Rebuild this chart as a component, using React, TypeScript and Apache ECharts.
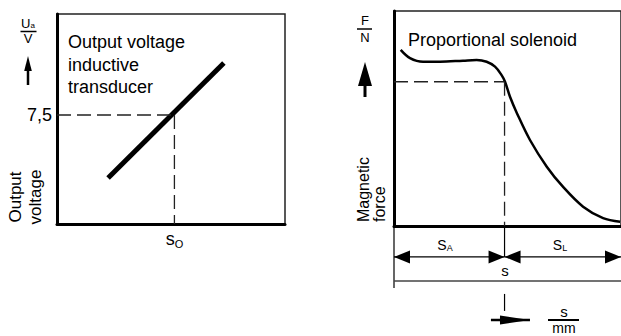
import React, { useEffect, useRef } from 'react';
import * as echarts from 'echarts';

// ---------- Left diagram: output voltage of inductive transducer ----------
const transducerX = [22.4, 73.2];
const transducerY = [21.9, 76.7];
const transducerRefX = 51.5; // s_O
const transducerRefY = 51.9; // 7,5 V
const transducerTickLabels = ['7,5'];
const transducerXLabel = ['s', 'O'];

// ---------- Right diagram: proportional solenoid force curve ----------
const strokeX = [2.95, 7.05, 12.8, 20.3, 30.4, 36.4, 40.8, 44.5, 47.4, 48.9, 51.1, 54.1, 59.9, 67.3, 74.4, 83.3, 92.1, 99.6];
const forceY = [81.9, 78.1, 76.4, 76.4, 76.9, 77.2, 76.4, 74.1, 70.2, 67.1, 60.1, 52.6, 40.0, 27.6, 18.3, 9.0, 3.7, 2.0];
const strokeRef = 48.7; // s
const forceRef = 67.1;
// dimension lines below the solenoid diagram (same axis units)
const dimArrowLevel = -14.4;
const dimBaseLevel = -25.6;
const dimLeftEnd = -28.8;
const dimLowerSegment = [-31.6, -39.5];
const dirArrowLevel = -43.7;
const dirArrowX = [42.7, 59.9];
const strokeRange = [0, 100];

const FONT = 'Liberation Sans, Arial, Helvetica, sans-serif';

export default function App() {
  const ref = useRef<HTMLDivElement>(null);

  useEffect(() => {
    if (!ref.current) return;
    const chart = echarts.init(ref.current, undefined, { renderer: 'svg' });

    const triLeft = 'path://M0,6.5L16,0L16,13Z';
    const triRight = 'path://M16,6.5L0,0L0,13Z';
    const longRight = 'path://M30,4.5L0,0L0,9Z';

    const base = {
      type: 'line',
      symbol: 'none',
      clip: false,
      silent: true,
      animation: false,
    };

    const dashed = { color: '#222', width: 1.3, type: [14, 6] };

    const leftHead = (x: number, y: number) => ({
      value: [x, y], symbol: triLeft, symbolSize: [16, 13], symbolOffset: [8, 0],
    });
    const rightHead = (x: number, y: number) => ({
      value: [x, y], symbol: triRight, symbolSize: [16, 13], symbolOffset: [-8, 0],
    });

    const arrowSeries = {
      ...base, xAxisIndex: 1, yAxisIndex: 1, showSymbol: true,
      itemStyle: { color: '#000', borderWidth: 0 },
      lineStyle: { color: '#000', width: 1.2 },
    };

    const option: any = {
      animation: false,
      textStyle: { fontFamily: FONT, color: '#000' },
      grid: [
        { left: 57, top: 14, width: 228, height: 210, show: true, borderColor: '#222', borderWidth: 1.5 },
        { left: 394, top: 11, width: 227, height: 215, show: true, borderColor: '#222', borderWidth: 1.5 },
      ],
      xAxis: [
        {
          gridIndex: 0, type: 'value', min: 0, max: 100,
          axisLine: { show: true, onZero: false, lineStyle: { color: '#000', width: 3 } },
          axisTick: { show: false }, splitLine: { show: false },
          axisLabel: {
            show: true, customValues: [transducerRefX], margin: 5,
            formatter: () => `{a|${transducerXLabel[0]}}{b|${transducerXLabel[1]}}`,
            rich: {
              a: { fontSize: 18, fontFamily: FONT, color: '#000' },
              b: { fontSize: 11, fontFamily: FONT, color: '#000', padding: [9, 0, 0, 0] },
            },
          },
        },
        {
          gridIndex: 1, type: 'value', min: strokeRange[0], max: strokeRange[1],
          axisLine: { show: true, onZero: false, lineStyle: { color: '#000', width: 3 } },
          axisTick: { show: false }, splitLine: { show: false }, axisLabel: { show: false },
        },
      ],
      yAxis: [
        {
          gridIndex: 0, type: 'value', min: 0, max: 100,
          axisLine: { show: true, onZero: false, lineStyle: { color: '#000', width: 3 } },
          axisTick: { show: false }, splitLine: { show: false },
          axisLabel: {
            show: true, customValues: [transducerRefY], margin: 5, fontSize: 18, color: '#000',
            formatter: () => transducerTickLabels[0],
          },
        },
        {
          gridIndex: 1, type: 'value', min: 0, max: 100,
          axisLine: { show: true, onZero: false, lineStyle: { color: '#000', width: 3 } },
          axisTick: { show: false }, splitLine: { show: false }, axisLabel: { show: false },
        },
      ],
      series: [
        // left
        { ...base, xAxisIndex: 0, yAxisIndex: 0, lineStyle: { color: '#000', width: 5 },
          data: transducerX.map((x, i) => [x, transducerY[i]]) },
        { ...base, xAxisIndex: 0, yAxisIndex: 0, lineStyle: dashed,
          data: [[0, transducerRefY], [transducerRefX, transducerRefY]] },
        { ...base, xAxisIndex: 0, yAxisIndex: 0, lineStyle: dashed,
          data: [[transducerRefX, transducerRefY], [transducerRefX, 0]] },
        // right
        { ...base, xAxisIndex: 1, yAxisIndex: 1, smooth: 0.35, lineStyle: { color: '#000', width: 2.5 },
          data: strokeX.map((x, i) => [x, forceY[i]]) },
        { ...base, xAxisIndex: 1, yAxisIndex: 1, lineStyle: dashed,
          data: [[0, forceRef], [strokeRef, forceRef]] },
        { ...base, xAxisIndex: 1, yAxisIndex: 1, lineStyle: dashed,
          data: [[strokeRef, forceRef], [strokeRef, 0]] },
        { ...base, xAxisIndex: 1, yAxisIndex: 1, lineStyle: { color: '#000', width: 1.2 },
          data: [[strokeRef, 0], [strokeRef, dimArrowLevel]] },
        { ...base, xAxisIndex: 1, yAxisIndex: 1, lineStyle: { color: '#000', width: 1.2 },
          data: [[strokeRange[0], 0], [strokeRange[0], dimLeftEnd]] },
        { ...base, xAxisIndex: 1, yAxisIndex: 1, lineStyle: { color: '#444', width: 1.5 },
          data: [[strokeRange[0], dimBaseLevel], [strokeRange[1], dimBaseLevel]] },
        { ...base, xAxisIndex: 1, yAxisIndex: 1, lineStyle: { color: '#000', width: 1.2 },
          data: [[strokeRef, dimLowerSegment[0]], [strokeRef, dimLowerSegment[1]]] },
        // dimension arrows s_A and s_L
        { ...arrowSeries,
          data: [leftHead(strokeRange[0], dimArrowLevel), rightHead(strokeRef, dimArrowLevel)] },
        { ...arrowSeries,
          data: [leftHead(strokeRef, dimArrowLevel), rightHead(strokeRange[1], dimArrowLevel)] },
        // direction arrow for s
        { ...arrowSeries, lineStyle: { color: '#000', width: 2.5 },
          data: [
            { value: [dirArrowX[0], dirArrowLevel], symbol: 'none' },
            { value: [dirArrowX[1], dirArrowLevel], symbol: longRight, symbolSize: [30, 9], symbolOffset: [-15, 0] },
          ] },
      ],
      graphic: [
        // left texts
        { type: 'text', x: 68, y: 31, silent: true,
          style: { text: 'Output voltage\ninductive\ntransducer', font: `18px ${FONT}`, fill: '#000', lineHeight: 22.5, align: 'left', verticalAlign: 'top' } },
        { type: 'text', x: 28, y: 23, silent: true,
          style: { text: '{a|U}{b|a}', align: 'center', verticalAlign: 'middle',
            rich: { a: { fontSize: 13, fontFamily: FONT, fill: '#000' }, b: { fontSize: 8, fontFamily: FONT, fill: '#000', padding: [4, 0, 0, 0] } } } },
        { type: 'line', silent: true, shape: { x1: 20.5, y1: 31.5, x2: 36.5, y2: 31.5 }, style: { stroke: '#000', lineWidth: 1.5 } },
        { type: 'text', x: 28, y: 38, silent: true,
          style: { text: 'V', font: `13px ${FONT}`, fill: '#000', align: 'center', verticalAlign: 'middle' } },
        { type: 'polygon', silent: true, shape: { points: [[28, 56], [31.8, 71], [24.2, 71]] }, style: { fill: '#000' } },
        { type: 'line', silent: true, shape: { x1: 28, y1: 70, x2: 28, y2: 85 }, style: { stroke: '#000', lineWidth: 2.5 } },
        { type: 'text', x: 25, y: 197, rotation: Math.PI / 2, silent: true,
          style: { text: 'Output\nvoltage', font: `17px ${FONT}`, fill: '#000', lineHeight: 20, align: 'center', verticalAlign: 'middle' } },
        // right texts
        { type: 'text', x: 408, y: 40, silent: true,
          style: { text: 'Proportional solenoid', font: `18px ${FONT}`, fill: '#000', align: 'left', verticalAlign: 'middle' } },
        { type: 'text', x: 365, y: 20, silent: true,
          style: { text: 'F', font: `13px ${FONT}`, fill: '#000', align: 'center', verticalAlign: 'middle' } },
        { type: 'line', silent: true, shape: { x1: 357, y1: 29, x2: 372, y2: 29 }, style: { stroke: '#000', lineWidth: 1.5 } },
        { type: 'text', x: 365, y: 37.5, silent: true,
          style: { text: 'N', font: `13px ${FONT}`, fill: '#000', align: 'center', verticalAlign: 'middle' } },
        { type: 'polygon', silent: true, shape: { points: [[365, 62], [372, 86], [358, 86]] }, style: { fill: '#000' } },
        { type: 'line', silent: true, shape: { x1: 365, y1: 84, x2: 365, y2: 97 }, style: { stroke: '#000', lineWidth: 3 } },
        { type: 'text', x: 371, y: 222, rotation: Math.PI / 2, silent: true,
          style: { text: 'Magnetic\nforce', font: `16px ${FONT}`, fill: '#000', lineHeight: 16, align: 'left', verticalAlign: 'middle' } },
        { type: 'text', x: 445, y: 245, silent: true,
          style: { text: '{a|S}{b|A}', align: 'center', verticalAlign: 'middle',
            rich: { a: { fontSize: 14, fontFamily: FONT, fill: '#000' }, b: { fontSize: 9, fontFamily: FONT, fill: '#000', padding: [5, 0, 0, 0] } } } },
        { type: 'text', x: 560, y: 245, silent: true,
          style: { text: '{a|S}{b|L}', align: 'center', verticalAlign: 'middle',
            rich: { a: { fontSize: 14, fontFamily: FONT, fill: '#000' }, b: { fontSize: 9, fontFamily: FONT, fill: '#000', padding: [5, 0, 0, 0] } } } },
        { type: 'text', x: 505, y: 270, silent: true,
          style: { text: 's', font: `15px ${FONT}`, fill: '#000', align: 'center', verticalAlign: 'middle' } },
        { type: 'text', x: 564, y: 311, silent: true,
          style: { text: 's', font: `15px ${FONT}`, fill: '#000', align: 'center', verticalAlign: 'middle' } },
        { type: 'line', silent: true, shape: { x1: 548, y1: 320, x2: 579, y2: 320 }, style: { stroke: '#000', lineWidth: 2 } },
        { type: 'text', x: 564, y: 327.5, silent: true,
          style: { text: 'mm', font: `14px ${FONT}`, fill: '#000', align: 'center', verticalAlign: 'middle' } },
      ],
    };

    chart.setOption(option);
    return () => chart.dispose();
  }, []);

  return (
    <div
      ref={ref}
      style={{ position: 'absolute', left: 0, top: 0, width: 621, height: 336, background: '#fff' }}
    />
  );
}
